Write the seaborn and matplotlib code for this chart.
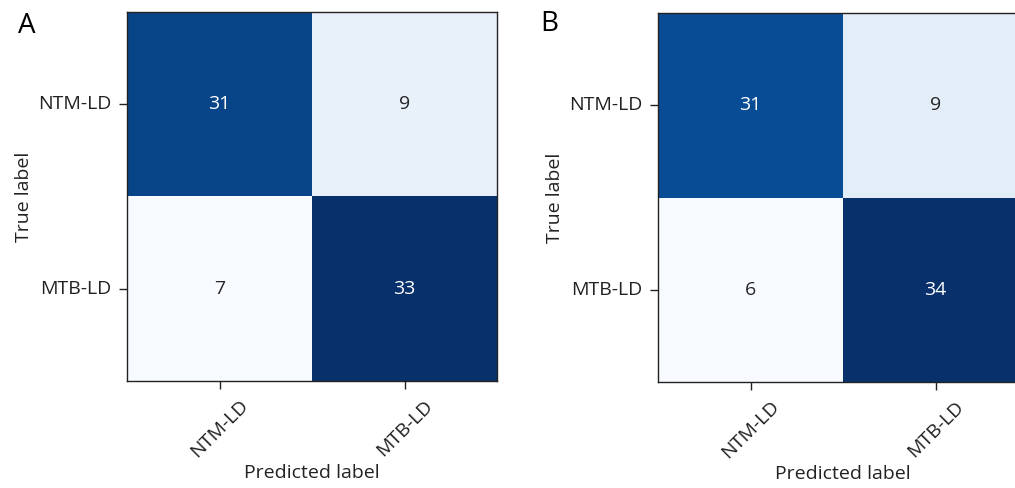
import numpy as np
import matplotlib
matplotlib.use("Agg")
import matplotlib.pyplot as plt
import seaborn as sns

classes = ["NTM-LD", "MTB-LD"]
cm_a = [[31, 9],
        [7, 33]]
cm_b = [[31, 9],
        [6, 34]]
panel_letters = ["A", "B"]

plt.rcParams["font.family"] = ["Open Sans", "DejaVu Sans"]

W, H = 1015, 488
fig = plt.figure(figsize=(W / 100, H / 100), dpi=100)

# axes boxes in pixels: left, bottom(from top), width, height
boxes = [(127, 381, 370, 369), (658, 382, 370, 369)]
letter_pos = [(18, 26), (540, 24)]

fs = 14
for cm, (l, b, w, h), letter, (lx, ly) in zip([cm_a, cm_b], boxes, panel_letters, letter_pos):
    ax = fig.add_axes([l / W, (H - b) / H, w / W, h / H])
    sns.heatmap(np.array(cm), ax=ax, cmap="Blues", cbar=False, annot=True, fmt="d",
                annot_kws={"fontsize": fs}, square=False,
                xticklabels=classes, yticklabels=classes)
    for s in ax.spines.values():
        s.set_visible(True)
        s.set_linewidth(1.0)
        s.set_color("#222222")
    ax.tick_params(axis="both", length=6, width=1, labelsize=fs, colors="#222222", pad=5)
    ax.set_xticklabels(classes, rotation=45, ha="center", fontsize=fs)
    ax.set_yticklabels(classes, rotation=0, va="center", fontsize=fs)
    ax.set_xlabel("Predicted label", fontsize=fs, labelpad=2, color="#222222")
    ax.set_ylabel("True label", fontsize=fs, labelpad=4, color="#222222")
    fig.text(lx / W, 1 - ly / H, letter, fontsize=20, ha="left", va="center")

fig.savefig("out.png", dpi=100, facecolor="white")
